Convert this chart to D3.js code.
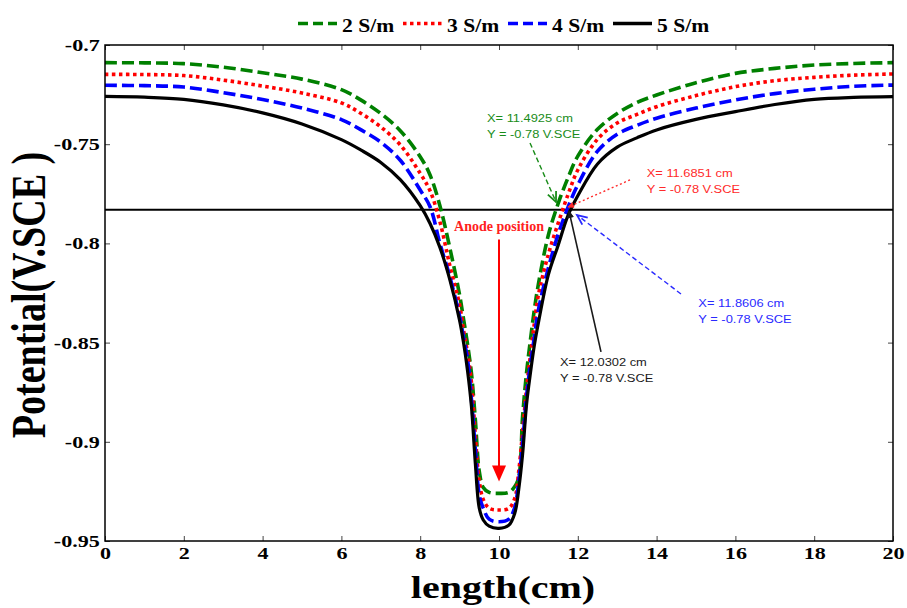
<!DOCTYPE html>
<html>
<head>
<meta charset="utf-8">
<script src="https://cdn.jsdelivr.net/npm/d3@7"></script>
<style>
  html, body { margin: 0; padding: 0; background: #fff; }
  svg { display: block; }
</style>
</head>
<body>
<svg id="chart" width="907" height="608"></svg>
<script>
// Sample positions along the specimen (cm)
const lengthCm = [0, 1, 2, 3, 4, 5, 6, 6.5, 7, 7.5, 8, 8.25, 8.5, 8.75, 9, 9.1, 9.2, 9.3, 9.4, 9.5, 9.6, 9.75,
  10, 10.25, 10.4, 10.5, 10.6, 10.7, 10.8, 10.9, 11, 11.25, 11.5, 11.75, 12, 12.5, 13, 13.5, 14, 15, 16, 17, 18, 19, 20];

// Potential (V vs SCE) for each electrolyte conductivity
const pot2 = [-0.7089, -0.7090, -0.7094, -0.7112, -0.7140, -0.7172, -0.7225, -0.7278, -0.7345, -0.7433, -0.7563, -0.7655, -0.7810, -0.8021, -0.8260, -0.8381, -0.8506, -0.8653, -0.8890, -0.9150, -0.9230, -0.9255,
  -0.9260, -0.9255, -0.9225, -0.9180, -0.8870, -0.8650, -0.8483, -0.8330, -0.8205, -0.7960, -0.7800, -0.7670, -0.7560, -0.7425, -0.7345, -0.7290, -0.7252, -0.7190, -0.7143, -0.7118, -0.7101, -0.7093, -0.7089];
const pot3 = [-0.7148, -0.7149, -0.7154, -0.7177, -0.7207, -0.7242, -0.7292, -0.7345, -0.7413, -0.7505, -0.7647, -0.7735, -0.7890, -0.8110, -0.8310, -0.8437, -0.8549, -0.8700, -0.8970, -0.9200, -0.9290, -0.9335,
  -0.9344, -0.9335, -0.9285, -0.9150, -0.8950, -0.8730, -0.8560, -0.8400, -0.8260, -0.8057, -0.7899, -0.7755, -0.7630, -0.7475, -0.7393, -0.7350, -0.7311, -0.7255, -0.7210, -0.7180, -0.7163, -0.7152, -0.7146];
const pot4 = [-0.7203, -0.7205, -0.7212, -0.7240, -0.7275, -0.7318, -0.7376, -0.7428, -0.7490, -0.7582, -0.7731, -0.7815, -0.8000, -0.8167, -0.8367, -0.8475, -0.8583, -0.8784, -0.9040, -0.9270, -0.9335, -0.9390,
  -0.9403, -0.9390, -0.9330, -0.9200, -0.9010, -0.8770, -0.8605, -0.8470, -0.8336, -0.8126, -0.7955, -0.7818, -0.7705, -0.7535, -0.7450, -0.7405, -0.7369, -0.7318, -0.7277, -0.7245, -0.7223, -0.7208, -0.7202];
const pot5 = [-0.7259, -0.7263, -0.7274, -0.7302, -0.7342, -0.7398, -0.7477, -0.7530, -0.7592, -0.7680, -0.7810, -0.7900, -0.8020, -0.8181, -0.8388, -0.8500, -0.8639, -0.8820, -0.9110, -0.9335, -0.9394, -0.9425,
  -0.9436, -0.9420, -0.9360, -0.9240, -0.9060, -0.8810, -0.8650, -0.8510, -0.8400, -0.8160, -0.8010, -0.7860, -0.7760, -0.7600, -0.7515, -0.7468, -0.7428, -0.7375, -0.7336, -0.7300, -0.7274, -0.7264, -0.7260];

const seriesNames = ["2 S/m", "3 S/m", "4 S/m", "5 S/m"];
const seriesColors = ["#008000", "#ff0000", "#0000ff", "#000000"];
const seriesDash = ["12,5", "3.5,3.5", "12,5", null];
const seriesValues = [pot2, pot3, pot4, pot5];

const xTicks = [0, 2, 4, 6, 8, 10, 12, 14, 16, 18, 20];
const yTicks = [-0.95, -0.9, -0.85, -0.8, -0.75, -0.7];
const yTickLabels = ["-0.95", "-0.9", "-0.85", "-0.8", "-0.75", "-0.7"];

// Protection threshold level
const thresholdLevel = -0.783;

// Data tips: crossing points of each curve with the threshold
const tipLines1 = ["X= 11.4925 cm", "X= 11.6851 cm", "X= 11.8606 cm", "X= 12.0302 cm"];
const tipLines2 = ["Y = -0.78 V.SCE", "Y = -0.78 V.SCE", "Y = -0.78 V.SCE", "Y = -0.78 V.SCE"];
const tipColors = ["#198c19", "#ff2a2a", "#2a2aff", "#1a1a1a"];
const tipTextAt = [[9.695, -0.7388], [13.75, -0.7664], [15.06, -0.8322], [11.548, -0.8616]];
const tipTail = [[10.787, -0.7494], [13.325, -0.7680], [14.619, -0.8255], [12.589, -0.8547]];
const tipHead = [[11.447, -0.7791], [11.751, -0.7817], [11.98, -0.7857], [11.777, -0.7837]];
const tipDash = ["5,3", "2,2.5", "5,3", null];

// Anode marker
const anodeX = 10;
const anodeTop = -0.798;
const anodeTip = -0.92;
const anodeLabelY = -0.7935;

const W = 907, H = 608;
const margin = { left: 105, right: 14, top: 45, bottom: 67 };
const pw = W - margin.left - margin.right;
const ph = H - margin.top - margin.bottom;

const svg = d3.select("#chart");
const g = svg.append("g").attr("transform", `translate(${margin.left},${margin.top})`);

const x = d3.scaleLinear().domain([0, 20]).range([0, pw]);
const y = d3.scaleLinear().domain([-0.95, -0.7]).range([ph, 0]);

const serif = "'Liberation Serif', 'Times New Roman', serif";
const sans = "'Liberation Sans', Arial, sans-serif";
const stretch = 1.3;

// Clip for the curves
svg.append("defs").append("clipPath").attr("id", "plotClip")
  .append("rect").attr("x", 0).attr("y", 0).attr("width", pw).attr("height", ph);

// Axes with inward ticks
const axB = g.append("g").attr("transform", `translate(0,${ph})`)
  .call(d3.axisBottom(x).tickValues(xTicks).tickSize(-5).tickSizeOuter(0).tickPadding(6).tickFormat(d3.format("d")));
const axT = g.append("g")
  .call(d3.axisTop(x).tickValues(xTicks).tickSize(-5).tickSizeOuter(0).tickFormat(""));
const axL = g.append("g")
  .call(d3.axisLeft(y).tickValues(yTicks).tickSize(-5).tickSizeOuter(0).tickPadding(4)
    .tickFormat((d, i) => yTickLabels[i]));
const axR = g.append("g").attr("transform", `translate(${pw},0)`)
  .call(d3.axisRight(y).tickValues(yTicks).tickSize(-5).tickSizeOuter(0).tickFormat(""));

[axB, axT, axL, axR].forEach(a => {
  a.select(".domain").remove();
  a.selectAll(".tick line").attr("stroke", "#444").attr("stroke-width", 1);
});
axB.selectAll(".tick text")
  .attr("font-family", serif).attr("font-weight", "bold").attr("font-size", 17).attr("fill", "#000")
  .attr("transform", `scale(${stretch},1)`);
axL.selectAll(".tick text")
  .attr("font-family", serif).attr("font-weight", "bold").attr("font-size", 17).attr("fill", "#000")
  .attr("transform", `scale(${stretch},1)`);

// Threshold line
g.append("line")
  .attr("x1", x(0)).attr("x2", x(20))
  .attr("y1", y(thresholdLevel)).attr("y2", y(thresholdLevel))
  .attr("stroke", "#000").attr("stroke-width", 2);

// Curves
const line = d3.line().x(d => x(d[0])).y(d => y(d[1])).curve(d3.curveCatmullRom.alpha(0.5));
const curves = g.append("g").attr("clip-path", "url(#plotClip)");
seriesValues.forEach((vals, i) => {
  const pts = lengthCm.map((lx, k) => [lx, vals[k]]);
  curves.append("path")
    .attr("d", line(pts))
    .attr("fill", "none")
    .attr("stroke", seriesColors[i])
    .attr("stroke-width", i === 3 ? 3.2 : 3.6)
    .attr("stroke-dasharray", seriesDash[i])
    .attr("stroke-linejoin", "round");
});

// Frame
g.append("rect").attr("x", 0).attr("y", 0).attr("width", pw).attr("height", ph)
  .attr("fill", "none").attr("stroke", "#000").attr("stroke-width", 1.5);

// Data tips
tipLines1.forEach((t, i) => {
  const hx = x(tipHead[i][0]), hy = y(tipHead[i][1]);
  const tx = x(tipTail[i][0]), ty = y(tipTail[i][1]);
  g.append("line").attr("x1", tx).attr("y1", ty).attr("x2", hx).attr("y2", hy)
    .attr("stroke", tipColors[i]).attr("stroke-width", i === 3 ? 1.6 : 1.4)
    .attr("stroke-dasharray", tipDash[i]);
  const ang = Math.atan2(hy - ty, hx - tx);
  const len = i === 1 ? 6 : (i === 3 ? 7 : 11);
  const spread = 0.42;
  const p1 = [hx - len * Math.cos(ang - spread), hy - len * Math.sin(ang - spread)];
  const p2 = [hx - len * Math.cos(ang + spread), hy - len * Math.sin(ang + spread)];
  if (i === 3 || i === 1) {
    g.append("path").attr("d", `M${p1[0]},${p1[1]}L${hx},${hy}L${p2[0]},${p2[1]}Z`)
      .attr("fill", tipColors[i]).attr("stroke", tipColors[i]).attr("stroke-width", 1);
  } else {
    g.append("path").attr("d", `M${p1[0]},${p1[1]}L${hx},${hy}L${p2[0]},${p2[1]}`)
      .attr("fill", "none").attr("stroke", tipColors[i]).attr("stroke-width", 1.8);
  }
  const tg = g.append("g").attr("transform", `translate(${x(tipTextAt[i][0])},${y(tipTextAt[i][1])}) scale(1.12,1)`);
  tg.append("text").attr("x", 0).attr("y", 0).text(t)
    .attr("font-family", sans).attr("font-size", 11.5).attr("fill", tipColors[i]);
  tg.append("text").attr("x", 0).attr("y", 16).text(tipLines2[i])
    .attr("font-family", sans).attr("font-size", 11.5).attr("fill", tipColors[i]);
});

// Anode position marker
g.append("text").attr("x", x(anodeX)).attr("y", y(anodeLabelY))
  .attr("text-anchor", "middle").attr("font-family", serif).attr("font-weight", "bold")
  .attr("font-size", 14).attr("fill", "#ff2020").text("Anode position");
g.append("line").attr("x1", x(anodeX)).attr("x2", x(anodeX))
  .attr("y1", y(anodeTop)).attr("y2", y(anodeTip) - 14)
  .attr("stroke", "#ff0000").attr("stroke-width", 2);
g.append("path")
  .attr("d", `M${x(anodeX) - 7},${y(anodeTip) - 16}L${x(anodeX) + 7},${y(anodeTip) - 16}L${x(anodeX)},${y(anodeTip)}Z`)
  .attr("fill", "#ff0000");

// Axis titles
svg.append("text")
  .attr("transform", `translate(${margin.left + pw / 2 + 4},598) scale(1.25,1)`)
  .attr("text-anchor", "middle").attr("font-family", serif).attr("font-weight", "bold")
  .attr("font-size", 32).attr("fill", "#000").text("length(cm)");
svg.append("text")
  .attr("transform", `translate(45,${margin.top + ph / 2 + 2}) scale(1.25,1) rotate(-90)`)
  .attr("text-anchor", "middle").attr("font-family", serif).attr("font-weight", "bold")
  .attr("font-size", 38).attr("fill", "#000").text("Potential(V.SCE )");

// Legend
const legendX = [298, 403, 508, 613];
const legend = svg.append("g");
seriesNames.forEach((name, i) => {
  legend.append("line").attr("x1", legendX[i]).attr("x2", legendX[i] + 39)
    .attr("y1", 23.5).attr("y2", 23.5)
    .attr("stroke", seriesColors[i]).attr("stroke-width", 3.4)
    .attr("stroke-dasharray", seriesDash[i] === "12,5" ? "10,5" : seriesDash[i]);
  legend.append("text")
    .attr("transform", `translate(${legendX[i] + 44},32) scale(1.2,1)`)
    .attr("font-family", serif).attr("font-weight", "bold").attr("font-size", 18)
    .attr("fill", "#000").text(name);
});
</script>
</body>
</html>
